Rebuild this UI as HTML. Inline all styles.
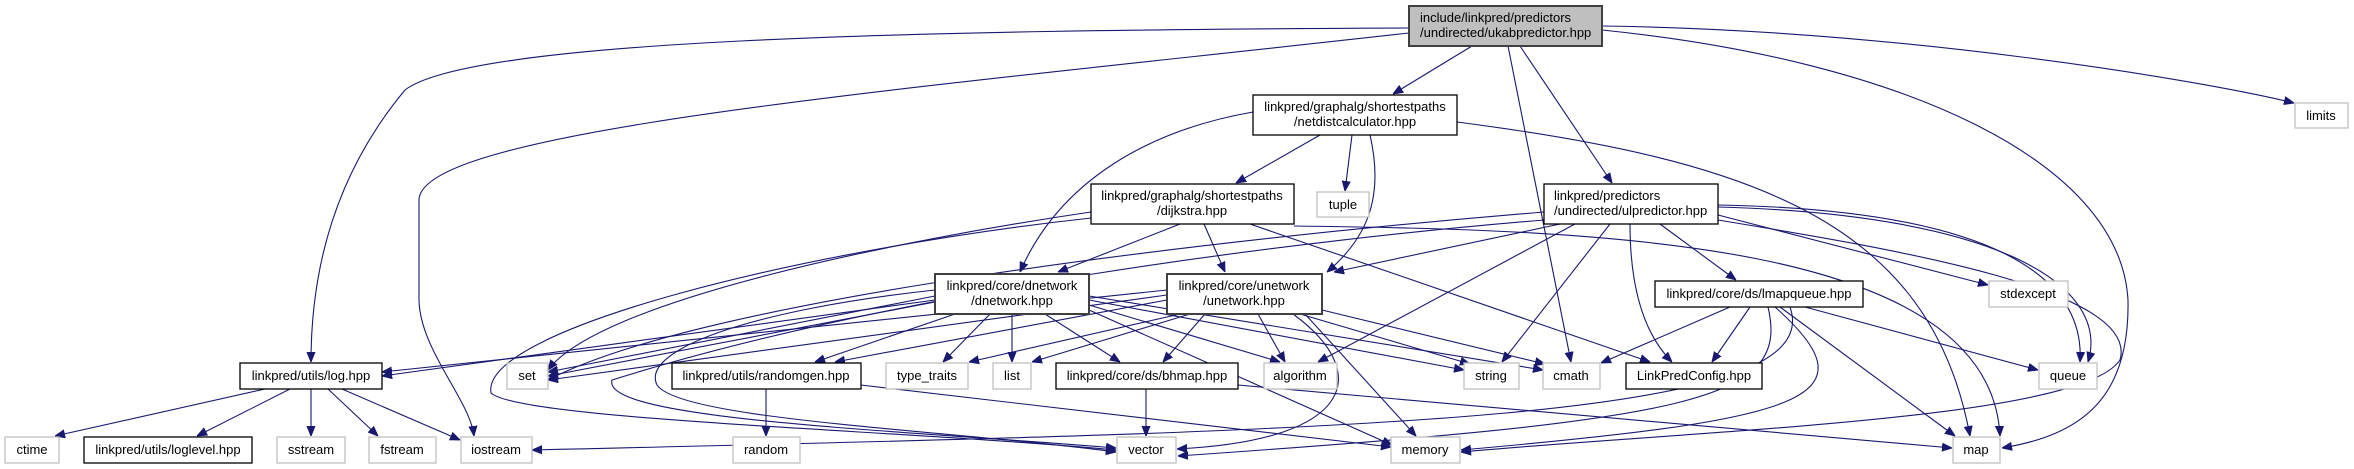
<!DOCTYPE html>
<html><head><meta charset="utf-8"><style>
html,body{margin:0;padding:0;background:#fff;}
svg{display:block;}
text{font-family:"Liberation Sans",Arial,sans-serif;font-size:13px;fill:#000;}
.e{fill:none;stroke:#191970;stroke-width:1.1;}
.b{fill:#fff;stroke:#000;stroke-width:1.3;}
.g{fill:#fff;stroke:#bfbfbf;stroke-width:1.3;}
.d{fill:#fff;stroke:#404040;stroke-width:2;}
</style></head><body>
<svg width="2354" height="469" viewBox="0 0 2354 469" xmlns="http://www.w3.org/2000/svg">
<defs><marker id="a" viewBox="0 0 10 10" refX="10" refY="5" markerWidth="10" markerHeight="10" markerUnits="userSpaceOnUse" orient="auto"><path d="M0,1 L10,5 L0,9 z" fill="#191970" stroke="#191970"/></marker></defs>
<g marker-end="url(#a)">
<!-- root -->
<path class="e" d="M1409,28 C900,30 470,40 405,90 C330,180 311,280 311,362"/>
<path class="e" d="M1409,33 C900,90 420,130 419,200 L419,300 C420,350 470,400 474,436"/>
<path class="e" d="M1472,46 L1393,94"/>
<path class="e" d="M1508,46 L1571,362"/>
<path class="e" d="M1520,46 L1612,183"/>
<path class="e" d="M1602,26 C1900,30 2200,80 2294,103"/>
<path class="e" d="M1602,30 C1900,60 2120,160 2128,300 C2130,400 2080,435 2002,448"/>
<!-- netdist -->
<path class="e" d="M1320,135 L1236,183"/>
<path class="e" d="M1352,135 L1345,191"/>
<path class="e" d="M1370,135 C1385,200 1365,240 1327,272"/>
<path class="e" d="M1253,112 C1150,130 1060,180 1020,272"/>
<path class="e" d="M1457,122 C1750,160 1930,220 1970,436"/>
<!-- dijkstra -->
<path class="e" d="M1180,224 L1058,272"/>
<path class="e" d="M1204,224 L1225,272"/>
<path class="e" d="M1250,224 L1650,362"/>
<path class="e" d="M1091,212 C900,240 600,300 548,370"/>
<path class="e" d="M1091,218 C800,250 480,330 491,393 C520,420 900,430 1116,450"/>
<path class="e" d="M1294,226 C1600,230 1990,240 2000,436"/>
<!-- ulpredictor -->
<path class="e" d="M1544,212 C1200,240 700,300 548,380"/>
<path class="e" d="M1544,220 C1300,240 900,290 612,380 C600,420 900,430 1116,448"/>
<path class="e" d="M1560,224 L1334,272"/>
<path class="e" d="M1575,224 L1318,362"/>
<path class="e" d="M1610,224 L1502,362"/>
<path class="e" d="M1630,224 C1630,300 1650,340 1672,362"/>
<path class="e" d="M1660,224 L1736,280"/>
<path class="e" d="M1718,215 L1988,285"/>
<path class="e" d="M1718,205 C2000,210 2085,280 2080,362"/>
<path class="e" d="M1718,207 C2010,215 2110,290 2088,362"/>
<path class="e" d="M1718,220 C1900,250 2140,290 2120,360 C2080,420 1700,430 1461,452"/>
<!-- dnetwork -->
<path class="e" d="M935,300 L382,376"/>
<path class="e" d="M935,296 L548,372"/>
<path class="e" d="M935,302 L548,376"/>
<path class="e" d="M955,314 L815,362"/>
<path class="e" d="M990,314 L943,362"/>
<path class="e" d="M1012,314 L1012,362"/>
<path class="e" d="M1045,314 L1120,362"/>
<path class="e" d="M1089,305 L1280,362"/>
<path class="e" d="M1089,300 L1464,370"/>
<path class="e" d="M1089,296 L1543,370"/>
<path class="e" d="M935,290 C750,310 640,350 657,385 C680,420 950,430 1116,452"/>
<path class="e" d="M1089,310 L1392,445"/>
<!-- unetwork -->
<path class="e" d="M1167,290 L382,372"/>
<path class="e" d="M1167,295 L548,380"/>
<path class="e" d="M1167,300 L835,362"/>
<path class="e" d="M1180,314 L969,362"/>
<path class="e" d="M1190,314 L1032,362"/>
<path class="e" d="M1205,314 L1163,362"/>
<path class="e" d="M1258,314 L1285,362"/>
<path class="e" d="M1300,314 L1470,364"/>
<path class="e" d="M1322,310 L1545,364"/>
<path class="e" d="M1293,314 C1370,370 1360,440 1177,449"/>
<path class="e" d="M1305,314 L1416,436"/>
<!-- log -->
<path class="e" d="M265,389 L55,436"/>
<path class="e" d="M290,389 L197,436"/>
<path class="e" d="M311,389 L311,436"/>
<path class="e" d="M328,389 L378,436"/>
<path class="e" d="M342,389 L460,440"/>
<!-- randomgen / bhmap -->
<path class="e" d="M766,389 L766,436"/>
<path class="e" d="M861,385 L1391,447"/>
<path class="e" d="M1146,389 L1146,436"/>
<path class="e" d="M1238,385 L1952,448"/>
<!-- lmapqueue -->
<path class="e" d="M1730,307 L1601,363"/>
<path class="e" d="M1750,307 L1712,362"/>
<path class="e" d="M1805,307 L2038,370"/>
<path class="e" d="M1780,307 L1955,436"/>
<path class="e" d="M1768,307 C1790,400 1700,420 1178,456"/>
<path class="e" d="M1790,307 C1830,420 1400,430 532,450"/>
<path class="e" d="M1775,307 C1880,400 1800,420 1461,450"/>
</g>
<!-- nodes -->
<rect x="1409" y="6" width="193" height="40" fill="#bfbfbf" stroke="#404040" stroke-width="2"/>
<text x="1420" y="22">include/linkpred/predictors</text><text x="1420" y="37">/undirected/ukabpredictor.hpp</text>

<rect class="b" x="1253" y="95" width="204" height="40"/>
<text x="1355" y="111" text-anchor="middle">linkpred/graphalg/shortestpaths</text><text x="1355" y="126" text-anchor="middle">/netdistcalculator.hpp</text>

<rect class="g" x="2295" y="103" width="53" height="25"/><text x="2321" y="120" text-anchor="middle">limits</text>

<rect class="b" x="1091" y="184" width="203" height="40"/>
<text x="1192" y="200" text-anchor="middle">linkpred/graphalg/shortestpaths</text><text x="1192" y="215" text-anchor="middle">/dijkstra.hpp</text>

<rect class="g" x="1317" y="192" width="52" height="25"/><text x="1343" y="209" text-anchor="middle">tuple</text>

<rect class="b" x="1544" y="184" width="174" height="40"/>
<text x="1554" y="200">linkpred/predictors</text><text x="1554" y="215">/undirected/ulpredictor.hpp</text>

<rect class="d" x="935" y="274" width="154" height="40"/>
<text x="1012" y="290" text-anchor="middle">linkpred/core/dnetwork</text><text x="1012" y="305" text-anchor="middle">/dnetwork.hpp</text>

<rect class="d" x="1167" y="274" width="155" height="40"/>
<text x="1244" y="290" text-anchor="middle">linkpred/core/unetwork</text><text x="1244" y="305" text-anchor="middle">/unetwork.hpp</text>

<rect class="b" x="1655" y="281" width="208" height="26"/><text x="1759" y="298" text-anchor="middle">linkpred/core/ds/lmapqueue.hpp</text>
<rect class="g" x="1989" y="281" width="79" height="26"/><text x="2028" y="298" text-anchor="middle">stdexcept</text>

<rect class="b" x="240" y="363" width="142" height="26"/><text x="311" y="380" text-anchor="middle">linkpred/utils/log.hpp</text>
<rect class="g" x="507" y="363" width="41" height="26"/><text x="527" y="380" text-anchor="middle">set</text>
<rect class="b" x="672" y="363" width="189" height="26"/><text x="766" y="380" text-anchor="middle">linkpred/utils/randomgen.hpp</text>
<rect class="g" x="886" y="363" width="82" height="26"/><text x="927" y="380" text-anchor="middle">type_traits</text>
<rect class="g" x="993" y="363" width="38" height="26"/><text x="1012" y="380" text-anchor="middle">list</text>
<rect class="b" x="1056" y="363" width="182" height="26"/><text x="1147" y="380" text-anchor="middle">linkpred/core/ds/bhmap.hpp</text>
<rect class="g" x="1264" y="363" width="73" height="26"/><text x="1300" y="380" text-anchor="middle">algorithm</text>
<rect class="g" x="1464" y="363" width="55" height="26"/><text x="1491" y="380" text-anchor="middle">string</text>
<rect class="g" x="1543" y="363" width="57" height="26"/><text x="1571" y="380" text-anchor="middle">cmath</text>
<rect class="b" x="1626" y="363" width="136" height="26"/><text x="1694" y="380" text-anchor="middle">LinkPredConfig.hpp</text>
<rect class="g" x="2039" y="363" width="58" height="26"/><text x="2068" y="380" text-anchor="middle">queue</text>

<rect class="g" x="5" y="437" width="54" height="26"/><text x="32" y="454" text-anchor="middle">ctime</text>
<rect class="b" x="84" y="437" width="168" height="26"/><text x="168" y="454" text-anchor="middle">linkpred/utils/loglevel.hpp</text>
<rect class="g" x="277" y="437" width="68" height="26"/><text x="311" y="454" text-anchor="middle">sstream</text>
<rect class="g" x="369" y="437" width="67" height="26"/><text x="402" y="454" text-anchor="middle">fstream</text>
<rect class="g" x="461" y="437" width="71" height="26"/><text x="496" y="454" text-anchor="middle">iostream</text>
<rect class="g" x="733" y="437" width="67" height="26"/><text x="766" y="454" text-anchor="middle">random</text>
<rect class="g" x="1117" y="437" width="59" height="26"/><text x="1146" y="454" text-anchor="middle">vector</text>
<rect class="g" x="1391" y="437" width="69" height="26"/><text x="1425" y="454" text-anchor="middle">memory</text>
<rect class="g" x="1953" y="437" width="47" height="26"/><text x="1976" y="454" text-anchor="middle">map</text>
</svg>
</body></html>
